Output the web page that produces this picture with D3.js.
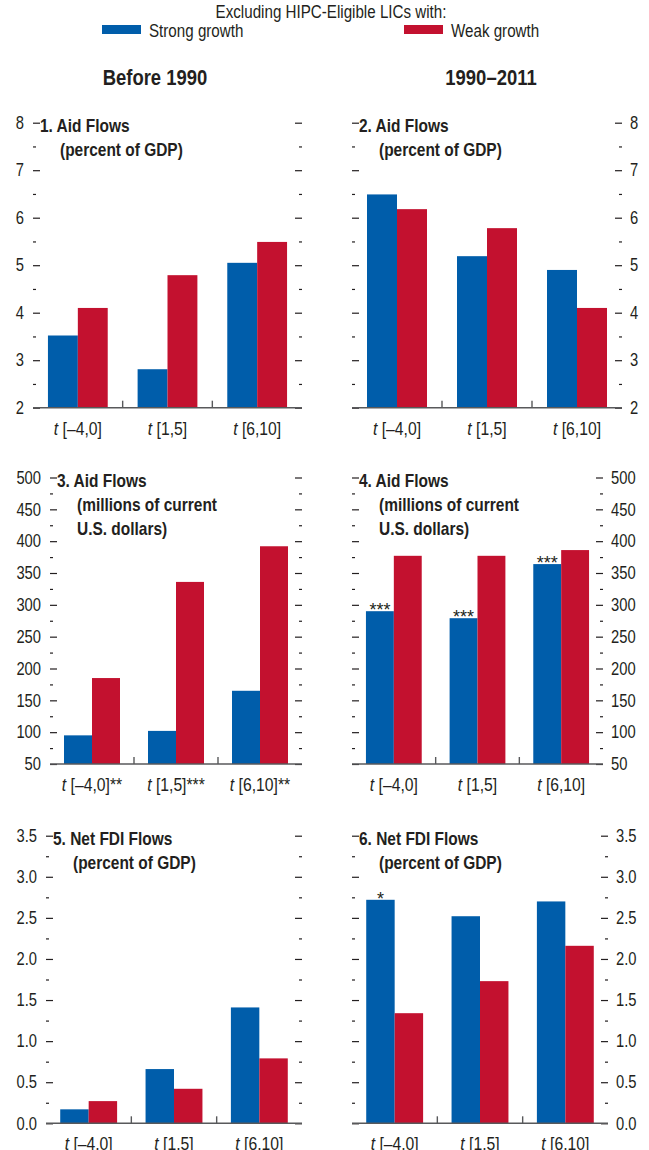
<!DOCTYPE html>
<html lang="en">
<head>
<meta charset="UTF-8">
<title>Aid and FDI flows</title>
<script src="https://d3js.org/d3.v7.min.js"></script>
<style>
  body { margin: 0; background: #fff; }
  svg { display: block; font-family: "Liberation Sans", Arial, sans-serif; }
  .tick text { fill: #231f20; font-size: 18px; }
  .tick line { stroke: #231f20; stroke-width: 1.2px; }
  .head { font-weight: bold; fill: #231f20; }
</style>
</head>
<body>
<svg id="chart" width="649" height="1150"></svg>
<script>
// data
const categories = ["[\u20134,0]", "[1,5]", "[6,10]"];
const seriesNames = ["Strong growth", "Weak growth"];
const colors = ["#005daa", "#c3112f"];

const aidGdpBeforeStrong = [3.52, 2.81, 5.05];
const aidGdpBeforeWeak   = [4.10, 4.79, 5.49];
const aidGdpAfterStrong  = [6.49, 5.19, 4.90];
const aidGdpAfterWeak    = [6.18, 5.78, 4.10];

const aidUsdBeforeStrong = [95, 102, 165];
const aidUsdBeforeWeak   = [185, 336, 392];
const aidUsdAfterStrong  = [290, 279, 364];
const aidUsdAfterWeak    = [377, 377, 386];

const fdiBeforeStrong = [0.17, 0.66, 1.41];
const fdiBeforeWeak   = [0.27, 0.42, 0.79];
const fdiAfterStrong  = [2.72, 2.52, 2.70];
const fdiAfterWeak    = [1.34, 1.73, 2.16];

const aidUsdBeforeSuffix = ["**", "***", "**"];
const aidUsdAfterStars   = ["***", "***", "***"];
const fdiAfterStars      = ["*", "", ""];

const panels = [
  { title: ["1. Aid Flows", "(percent of GDP)"], strong: aidGdpBeforeStrong, weak: aidGdpBeforeWeak,
    domain: [2, 8], step: 1, fmt: d3.format("d"), side: "left",
    x0: 33, x1: 302, yTop: 122.7, yBot: 407.7 },
  { title: ["2. Aid Flows", "(percent of GDP)"], strong: aidGdpAfterStrong, weak: aidGdpAfterWeak,
    domain: [2, 8], step: 1, fmt: d3.format("d"), side: "right",
    x0: 352, x1: 622, yTop: 122.7, yBot: 407.7 },
  { title: ["3. Aid Flows", "(millions of current", "U.S. dollars)"], strong: aidUsdBeforeStrong, weak: aidUsdBeforeWeak,
    domain: [50, 500], step: 50, fmt: d3.format("d"), side: "left", suffix: aidUsdBeforeSuffix,
    x0: 50, x1: 302, yTop: 477.5, yBot: 764 },
  { title: ["4. Aid Flows", "(millions of current", "U.S. dollars)"], strong: aidUsdAfterStrong, weak: aidUsdAfterWeak,
    domain: [50, 500], step: 50, fmt: d3.format("d"), side: "right", stars: aidUsdAfterStars,
    x0: 352, x1: 603, yTop: 477.5, yBot: 764 },
  { title: ["5. Net FDI Flows", "(percent of GDP)"], strong: fdiBeforeStrong, weak: fdiBeforeWeak,
    domain: [0, 3.5], step: 0.5, fmt: d3.format(".1f"), side: "left",
    x0: 46, x1: 302, yTop: 835.7, yBot: 1123.3 },
  { title: ["6. Net FDI Flows", "(percent of GDP)"], strong: fdiAfterStrong, weak: fdiAfterWeak,
    domain: [0, 3.5], step: 0.5, fmt: d3.format(".1f"), side: "right", stars: fdiAfterStars,
    x0: 352, x1: 608, yTop: 835.7, yBot: 1123.3 }
];

// no narrow font available, so squeeze Liberation Sans horizontally
function narrow(sel, sq = 0.82) {
  sel.each(function () {
    const t = d3.select(this);
    const x = +t.attr("x") || 0, y = +t.attr("y") || 0;
    t.attr("x", 0).attr("y", 0).attr("transform", `translate(${x},${y}) scale(${sq},1)`);
  });
  return sel;
}

const svg = d3.select("#chart");
svg.append("rect").attr("width", 649).attr("height", 1150).attr("fill", "#fff");

// legend
narrow(svg.append("text").attr("x", 331).attr("y", 18).attr("text-anchor", "middle")
  .attr("font-size", 18.5).attr("fill", "#231f20").text("Excluding HIPC-Eligible LICs with:"));
const legX = [102, 404];
seriesNames.forEach((name, i) => {
  svg.append("rect").attr("x", legX[i]).attr("y", 25).attr("width", 39).attr("height", 9).attr("fill", colors[i]);
  narrow(svg.append("text").attr("x", legX[i] + 47).attr("y", 37).attr("font-size", 18.5)
    .attr("fill", "#231f20").text(name));
});

// column headings
narrow(svg.append("text").attr("class", "head").attr("x", 155).attr("y", 85).attr("text-anchor", "middle")
  .attr("font-size", 22).text("Before 1990"), 0.84);
narrow(svg.append("text").attr("class", "head").attr("x", 491).attr("y", 85).attr("text-anchor", "middle")
  .attr("font-size", 22).text("1990\u20132011"), 0.84);

panels.forEach(p => {
  const g = svg.append("g");
  const y = d3.scaleLinear().domain(p.domain).range([p.yBot, p.yTop]);
  const x = d3.scaleBand().domain(categories).range([p.x0, p.x1]).padding(0);
  const bw = x.bandwidth();
  const xs = d3.scaleBand().domain(seriesNames).range([bw / 6, bw * 5 / 6]).padding(0);

  const major = d3.range(p.domain[0], p.domain[1] + p.step / 2, p.step);
  const minor = d3.range(p.domain[0] + p.step / 2, p.domain[1], p.step);

  // bars
  categories.forEach((c, i) => {
    [p.strong[i], p.weak[i]].forEach((v, j) => {
      g.append("rect")
        .attr("x", x(c) + xs(seriesNames[j]))
        .attr("y", y(v))
        .attr("width", xs.bandwidth())
        .attr("height", p.yBot - y(v))
        .attr("fill", colors[j]);
    });
    if (p.stars && p.stars[i]) {
      g.append("text")
        .attr("x", x(c) + xs(seriesNames[0]) + xs.bandwidth() / 2)
        .attr("y", y(p.strong[i]) + 5)
        .attr("text-anchor", "middle").attr("font-size", 18).attr("fill", "#231f20")
        .text(p.stars[i]);
    }
  });

  // y ticks, pointing inwards on both sides
  const leftMaj = d3.axisLeft(y).tickValues(major).tickSizeInner(-7).tickSizeOuter(0).tickPadding(9)
    .tickFormat(p.side === "left" ? p.fmt : "");
  const rightMaj = d3.axisRight(y).tickValues(major).tickSizeInner(-7).tickSizeOuter(0).tickPadding(8)
    .tickFormat(p.side === "right" ? p.fmt : "");
  const leftMin = d3.axisLeft(y).tickValues(minor).tickSizeInner(-3).tickSizeOuter(0).tickFormat("");
  const rightMin = d3.axisRight(y).tickValues(minor).tickSizeInner(-3).tickSizeOuter(0).tickFormat("");

  [[leftMaj, p.x0], [leftMin, p.x0], [rightMaj, p.x1], [rightMin, p.x1]].forEach(([ax, xx]) => {
    const a = g.append("g").attr("transform", `translate(${xx},0)`).call(ax);
    a.select(".domain").remove();
    a.selectAll("text").attr("font-family", null);
    narrow(a.selectAll("text"));
  });

  // x baseline, separators and labels
  g.append("line").attr("x1", p.x0).attr("x2", p.x1).attr("y1", p.yBot).attr("y2", p.yBot)
    .attr("stroke", "#58595b").attr("stroke-width", 1.6);
  categories.slice(1).forEach(c => {
    g.append("line").attr("x1", x(c)).attr("x2", x(c)).attr("y1", p.yBot).attr("y2", p.yBot - 7)
      .attr("stroke", "#58595b").attr("stroke-width", 1.4);
  });
  categories.forEach((c, i) => {
    const t = g.append("text").attr("x", x(c) + bw / 2).attr("y", p.yBot + 27)
      .attr("text-anchor", "middle").attr("font-size", 18.5).attr("fill", "#231f20");
    t.append("tspan").attr("font-style", "italic").text("t ");
    t.append("tspan").text(c + (p.suffix ? p.suffix[i] : ""));
    narrow(t, 0.85);
  });

  // panel title
  p.title.forEach((line, k) => {
    narrow(g.append("text").attr("class", "head")
      .attr("x", k === 0 ? p.x0 + 7 : p.x0 + 27)
      .attr("y", p.yTop + 9 + k * 24)
      .attr("font-size", 18).text(line), 0.86);
  });
});
</script>
</body>
</html>
